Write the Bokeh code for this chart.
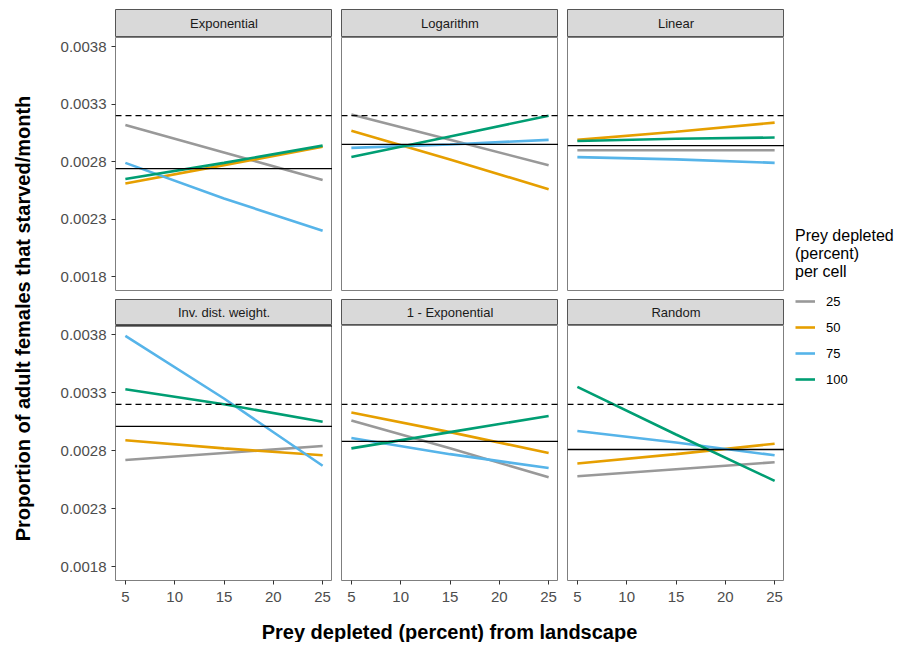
from math import pi
from bokeh.plotting import figure
from bokeh.layouts import row, column
from bokeh.models import (Range1d, FixedTicker, PrintfTickFormatter, Span, Label,
                          Legend, LegendItem)
from bokeh.embed import file_html
from bokeh.resources import INLINE

# ---------------- data ----------------
X_DEPLETED = [5, 15, 25]                      # prey depleted (percent) from landscape
GROUPS = ["25", "50", "75", "100"]            # prey depleted (percent) per cell
COLORS = ["#999999", "#E69F00", "#56B4E9", "#009E73"]
PANELS = ["Exponential", "Logarithm", "Linear",
          "Inv. dist. weight.", "1 - Exponential", "Random"]

exponential = {"25": [0.00312, 0.00288, 0.00264], "50": [0.00261, 0.00277, 0.00293],
               "75": [0.00279, 0.00248, 0.00220], "100": [0.00265, 0.00279, 0.00294]}
logarithm = {"25": [0.00321, 0.00299, 0.00277], "50": [0.00307, 0.00282, 0.00256],
             "75": [0.00292, 0.00295, 0.00299], "100": [0.00284, 0.00302, 0.00320]}
linear = {"25": [0.00290, 0.00290, 0.00290], "50": [0.00299, 0.00306, 0.00314],
          "75": [0.00284, 0.00282, 0.00279], "100": [0.00298, 0.00300, 0.00301]}
inv_dist = {"25": [0.00272, 0.00278, 0.00284], "50": [0.00289, 0.00282, 0.00276],
            "75": [0.00379, 0.00325, 0.00267], "100": [0.00333, 0.00320, 0.00305]}
one_minus_exp = {"25": [0.00306, 0.00282, 0.00257], "50": [0.00313, 0.00296, 0.00278],
                 "75": [0.00291, 0.00277, 0.00265], "100": [0.00282, 0.00296, 0.00310]}
random_ = {"25": [0.00258, 0.00264, 0.00270], "50": [0.00269, 0.00277, 0.00286],
           "75": [0.00297, 0.00287, 0.00276], "100": [0.00335, 0.00294, 0.00254]}
SERIES = [exponential, logarithm, linear, inv_dist, one_minus_exp, random_]

SOLID_REF = [0.00274, 0.00295, 0.00294, 0.00301, 0.00288, 0.00281]   # solid black line
DASHED_REF = 0.0032                                                   # dashed line
Y_TICKS = [0.0018, 0.0023, 0.0028, 0.0033, 0.0038]
X_TICKS = [5, 10, 15, 20, 25]

FONT = "Liberation Sans"
X_RANGE = (4, 26)
Y_RANGE = (0.00168, 0.00388)

FRAME_W = 217
LEFT_W = 67
GAP = 9
YTITLE_W = 48


def borders(p, left, right, top, bottom):
    p.min_border_left = left
    p.min_border_right = right
    p.min_border_top = top
    p.min_border_bottom = bottom


def make_strip(text, col, h, top_border):
    w = FRAME_W + (LEFT_W if col == 0 else GAP)
    p = figure(width=w, height=h, x_range=Range1d(0, 1), y_range=Range1d(0, 1),
               output_backend="svg", toolbar_location=None,
               x_axis_type=None, y_axis_type=None)
    borders(p, LEFT_W if col == 0 else GAP, 0, top_border, 0)
    p.background_fill_color = "#d9d9d9"
    p.border_fill_color = "white"
    p.outline_line_color = "#555555"
    p.outline_line_width = 1
    p.grid.grid_line_color = None
    p.add_layout(Label(x=0.5, y=0.5, text=text, text_align="center",
                       text_baseline="middle", text_font=FONT,
                       text_font_size="13px", text_color="#1a1a1a"))
    return p


def make_panel(idx, col, bottom_row, h, bottom_border):
    w = FRAME_W + (LEFT_W if col == 0 else GAP)
    p = figure(width=w, height=h, x_range=Range1d(*X_RANGE), y_range=Range1d(*Y_RANGE),
               output_backend="svg", toolbar_location=None)
    borders(p, LEFT_W if col == 0 else GAP, 0, 0, bottom_border)
    p.outline_line_color = "#7f7f7f"
    p.outline_line_width = 1
    p.grid.grid_line_color = None
    p.background_fill_color = "white"

    for ax, ticks, standoff in ((p.xaxis[0], X_TICKS, 7), (p.yaxis[0], Y_TICKS, 5)):
        ax.ticker = FixedTicker(ticks=ticks)
        ax.axis_line_color = None
        ax.major_tick_line_color = "#333333"
        ax.major_tick_out = 4
        ax.major_tick_in = 0
        ax.minor_tick_line_color = None
        ax.major_label_text_font = FONT
        ax.major_label_text_font_size = "15px"
        ax.major_label_text_color = "#4d4d4d"
        ax.major_label_standoff = standoff
    p.yaxis[0].formatter = PrintfTickFormatter(format="%.4f")
    p.xaxis.visible = bottom_row
    p.yaxis.visible = (col == 0)

    data = SERIES[idx]
    p.add_layout(Span(location=DASHED_REF, dimension="width", line_color="black",
                      line_width=1.3, line_dash="6 4"))
    p.add_layout(Span(location=SOLID_REF[idx], dimension="width", line_color="black",
                      line_width=1.3))
    if idx == 3:
        p.add_layout(Span(location=Y_RANGE[1], dimension="width", line_color="black",
                          line_width=2))
    for g, c in zip(GROUPS, COLORS):
        p.line(X_DEPLETED, data[g], line_color=c, line_width=2.6)
    return p


rows = []
strip_specs = [(37, 9), (26, 0)]
panel_specs = [(262, 9), (285, 30)]
for r in range(2):
    sh, stop = strip_specs[r]
    ph, pb = panel_specs[r]
    strips = [make_strip(PANELS[r * 3 + c], c, sh, stop) for c in range(3)]
    panels = [make_panel(r * 3 + c, c, r == 1, ph, pb) for c in range(3)]
    rows.append(row(*strips))
    rows.append(row(*panels))
grid = column(*rows)
total_h = 37 + 262 + 26 + 285

# y-axis title
ytitle = figure(width=YTITLE_W, height=total_h, output_backend="svg", toolbar_location=None,
                x_axis_type=None, y_axis_type=None, x_range=Range1d(0, 1),
                y_range=Range1d(0, 1))
borders(ytitle, 0, 0, 0, 0)
ytitle.outline_line_color = None
ytitle.grid.grid_line_color = None
ytitle.add_layout(Label(x=22, y=total_h - 318, x_units="screen", y_units="screen",
                        angle=pi / 2, text="Proportion of adult females that starved/month",
                        text_align="center", text_baseline="middle", text_font=FONT,
                        text_font_size="20px", text_font_style="bold", text_color="black"))

# legend (its lines are drawn outside the visible range; only the key shows)
leg = figure(width=110, height=total_h, output_backend="svg", toolbar_location=None,
             x_axis_type=None, y_axis_type=None, x_range=Range1d(100, 101),
             y_range=Range1d(0, 1))
borders(leg, 0, 0, 0, 0)
leg.outline_line_color = None
leg.grid.grid_line_color = None
items = []
for g, c in zip(GROUPS, COLORS):
    rr = leg.line(X_DEPLETED, exponential[g], line_color=c, line_width=2.6)
    items.append(LegendItem(label=g, renderers=[rr]))
legend = Legend(items=items, location=(11, 221), title="Prey depleted\n(percent)\nper cell",
                title_text_font=FONT, title_text_font_size="16px",
                title_text_font_style="normal", title_text_color="black",
                title_standoff=10,
                label_text_font=FONT, label_text_font_size="13px", label_text_color="black",
                glyph_width=20, glyph_height=20, label_height=20, label_standoff=11,
                spacing=6, padding=0, margin=0, border_line_color=None,
                background_fill_alpha=0)
leg.add_layout(legend, "center")

body = row(ytitle, grid, leg)

# x-axis title
xtitle = figure(width=YTITLE_W + LEFT_W + FRAME_W * 3 + GAP * 2, height=32,
                output_backend="svg", toolbar_location=None, x_axis_type=None,
                y_axis_type=None, x_range=Range1d(0, 1), y_range=Range1d(0, 1))
borders(xtitle, 0, 0, 0, 0)
xtitle.outline_line_color = None
xtitle.grid.grid_line_color = None
xtitle.add_layout(Label(x=449, y=11, x_units="screen", y_units="screen",
                        text="Prey depleted (percent) from landscape",
                        text_align="center", text_baseline="middle", text_font=FONT,
                        text_font_size="20px", text_font_style="bold", text_color="black"))

page = column(body, xtitle)
open("out.html", "w").write(file_html(page, INLINE))
